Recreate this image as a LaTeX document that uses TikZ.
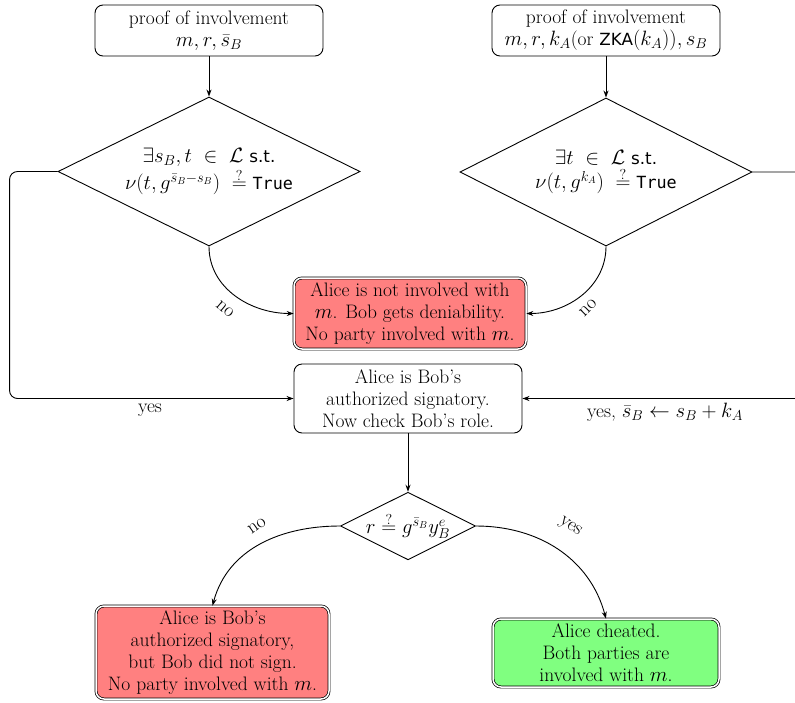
\documentclass[tikz,border=0pt]{standalone}
\usepackage{fontspec}
\setsansfont{DejaVu Sans}[Scale=0.86]
\setmonofont{DejaVu Sans Mono}[Scale=0.86]
\usetikzlibrary{shapes.geometric,arrows.meta}
\tikzset{
  box/.style={draw, rounded corners=8pt, align=center, line width=0.9pt, inner sep=2pt},
  dbox/.style={box, double, double distance=1.5pt, line width=0.7pt},
  dia/.style={draw, diamond, aspect=2, align=center, inner sep=0pt, line width=0.9pt},
  arr/.style={-{Stealth[length=7pt,width=5pt]}, line width=0.9pt},
  lbl/.style={inner sep=1pt}
}
\begin{document}
\begin{tikzpicture}[x=1pt,y=1pt,font=\fontsize{19.5}{22}\selectfont]
\useasboundingbox (0,0) rectangle (795,-702);
\clip (0,0) rectangle (795,-702);
\node[box, minimum width=228pt, minimum height=51pt] (t1) at (209,-30.5) {proof of involvement\\$m, r, \bar s_B$};
\node[box, minimum width=228pt, minimum height=51pt] (t2) at (606,-30.5) {proof of involvement\\$m, r, k_A$(or \textsf{ZKA}$(k_A)), s_B$};
\node[dia, minimum width=302pt, minimum height=149pt] (d1) at (209,-171.5) {$\exists s_B, t\ \in\ \mathcal{L}$ \textsf{s.t.}\\[2pt] $\nu(t, g^{\bar s_B - s_B})\ \stackrel{?}{=}\ $\texttt{True}};
\node[dia, minimum width=292pt, minimum height=148pt] (d2) at (606,-172) {$\exists t\ \in\ \mathcal{L}$ \textsf{s.t.}\\[2pt] $\nu(t, g^{k_A})\ \stackrel{?}{=}\ $\texttt{True}};
\node[dbox, fill=red!50, minimum width=232pt, minimum height=71pt] (r1) at (410,-313.5) {Alice is not involved with\\ $m$. Bob gets deniability.\\ No party involved with $m$.};
\node[box, minimum width=228pt, minimum height=69pt] (al) at (408,-398.5) {Alice is Bob's\\ authorized signatory.\\ Now check Bob's role.};
\node[dia, minimum width=132pt, minimum height=66pt] (d3) at (408,-526) {$r \stackrel{?}{=} g^{\bar s_B} y_B^e$};
\node[dbox, fill=red!50, minimum width=233pt, minimum height=93pt] (r2) at (212.5,-652.5) {Alice is Bob's\\ authorized signatory,\\ but Bob did not sign.\\ No party involved with $m$.};
\node[dbox, fill=green!50, minimum width=226pt, minimum height=68pt] (g) at (606,-653) {Alice cheated.\\ Both parties are\\ involved with $m$.};

\draw[arr] (t1.south) -- (d1.north);
\draw[arr] (t2.south) -- (d2.north);
\draw[arr] (d1.south) to[out=-90,in=180] (r1.west);
\draw[arr] (d2.south) to[out=-90,in=0] (r1.east);
\draw[arr, rounded corners=8pt] (d1.west) -- ++(-48,0) |- (al.west);
\draw[arr, rounded corners=8pt] (d2.east) -- ++(60,0) |- (al.east);
\draw[arr] (al.south) -- (d3.north);
\draw[arr] (d3.west) to[out=180,in=75] (r2.north);
\draw[arr] (d3.east) to[out=0,in=105] (g.north);

\node[lbl, rotate=-40] (n1) at (225,-309) {no};
\node[lbl, rotate=45] (n2) at (588,-308) {no};
\node[lbl] (y1) at (150,-410) {yes};
\node[lbl] (y2) at (665,-412) {yes, $\bar s_B \leftarrow s_B + k_A$};
\node[lbl, rotate=35] (n3) at (257,-526) {no};
\node[lbl, rotate=-35] (y3) at (570,-527) {yes};
\end{tikzpicture}
\end{document}
